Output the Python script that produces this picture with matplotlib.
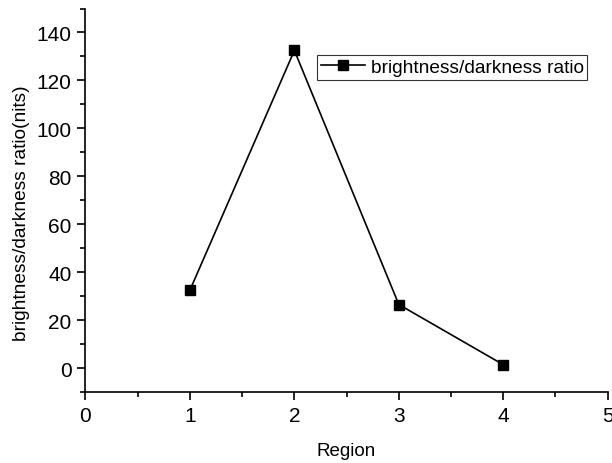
import matplotlib
matplotlib.use('Agg')
import matplotlib.pyplot as plt
from matplotlib.ticker import MultipleLocator

# Data
region = [1, 2, 3, 4]
ratio = [32.5, 132.5, 26.5, 1.4]

plt.rcParams['font.family'] = ['Liberation Sans', 'DejaVu Sans']

fig = plt.figure(figsize=(6.12, 4.64), dpi=100)
ax = fig.add_axes([0.1397, 0.153, 0.8533, 0.8265])

ax.plot(region, ratio, color='black', linewidth=1.2, marker='s',
        markersize=6.8, label='brightness/darkness ratio')

ax.set_xlim(0, 5)
ax.set_ylim(-10, 150)
ax.xaxis.set_major_locator(MultipleLocator(1))
ax.xaxis.set_minor_locator(MultipleLocator(0.5))
ax.yaxis.set_major_locator(MultipleLocator(20))
ax.yaxis.set_minor_locator(MultipleLocator(10))

ax.spines['top'].set_visible(False)
ax.spines['right'].set_visible(False)
for s in ('left', 'bottom'):
    ax.spines[s].set_linewidth(1.2)

ax.tick_params(which='major', direction='out', length=6, width=1.2,
               labelsize=15, pad=4)
ax.tick_params(which='minor', direction='out', length=3.5, width=1.2)

ax.set_xlabel('Region', fontsize=13.5, labelpad=12)
ax.set_ylabel('brightness/darkness ratio(nits)', fontsize=13.8)
ax.yaxis.set_label_coords(-0.106, 0.468)

leg = ax.legend(loc='upper left', bbox_to_anchor=(0.443, 0.879),
                fontsize=13.8, frameon=True, fancybox=False, borderpad=0.2,
                handlelength=2.3, handletextpad=0.3, borderaxespad=0)
leg.get_frame().set_edgecolor('black')
leg.get_frame().set_linewidth(0.8)

fig.savefig('out.png', dpi=100)
